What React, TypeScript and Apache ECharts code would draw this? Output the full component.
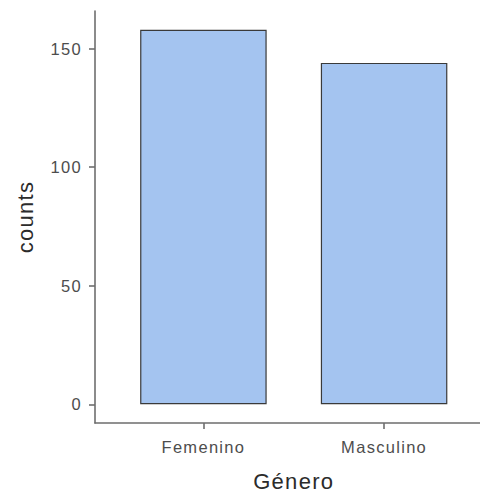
import React, { useEffect, useRef } from "react";
import * as echarts from "echarts";

const categories = ["Femenino", "Masculino"];
const counts = [158, 144];
const yTicks = [0, 50, 100, 150];
const xTitle = "Género";
const yTitle = "counts";

export default function App() {
  const ref = useRef<HTMLDivElement>(null);

  useEffect(() => {
    if (!ref.current) return;
    const chart = echarts.init(ref.current, null, { renderer: "svg" });
    const top = Math.max(...counts);
    const tickPositions = categories.map((_, i) => i + 1);
    const font = "'Liberation Sans', Arial, sans-serif";
    chart.setOption({
      animation: false,
      backgroundColor: "#ffffff",
      grid: {
        left: 95,
        right: -12.5,
        top: 11,
        bottom: 69,
        containLabel: false,
        outerBoundsMode: "none",
      },
      xAxis: {
        type: "value",
        min: 0.4,
        max: categories.length + 0.6,
        name: xTitle,
        nameLocation: "middle",
        nameGap: 47,
        nameTextStyle: { fontFamily: font, fontSize: 22, color: "#2b2b2b" },
        axisLine: { onZero: false, lineStyle: { color: "#6e6e6e", width: 1.6 } },
        axisTick: { show: true, length: 6, customValues: tickPositions, lineStyle: { color: "#6e6e6e", width: 1.6 } },
        axisLabel: {
          customValues: tickPositions,
          formatter: (v: number) => categories[Math.round(v) - 1] ?? "",
          margin: 15.5,
          fontFamily: font,
          fontSize: 16.5,
          color: "#4d4d4d",
        },
        splitLine: { show: false },
      },
      yAxis: {
        type: "value",
        min: -top * 0.05,
        max: top * 1.05,
        name: yTitle,
        nameLocation: "middle",
        nameGap: 59,
        nameTextStyle: { fontFamily: font, fontSize: 22, color: "#2b2b2b" },
        axisLine: { show: true, onZero: false, lineStyle: { color: "#6e6e6e", width: 1.6 } },
        axisTick: { show: true, length: 6, customValues: yTicks, lineStyle: { color: "#6e6e6e", width: 1.6 } },
        axisLabel: {
          customValues: yTicks,
          margin: 13,
          fontFamily: font,
          fontSize: 16.5,
          color: "#4d4d4d",
        },
        splitLine: { show: false },
      },
      series: [
        {
          type: "bar",
          data: categories.map((_, i) => [i + 1, counts[i]]),
          barWidth: 126.5,
          itemStyle: { color: "#a4c4f0", borderColor: "#3a3a3a", borderWidth: 1.2 },
        },
      ],
    });
    return () => chart.dispose();
  }, []);

  return (
    <>
      <style>{"#chart text { letter-spacing: 1.3px; }"}</style>
      <div
        id="chart"
        ref={ref}
        style={{ position: "absolute", left: 0, top: 0, width: 480, height: 492 }}
      />
    </>
  );
}
